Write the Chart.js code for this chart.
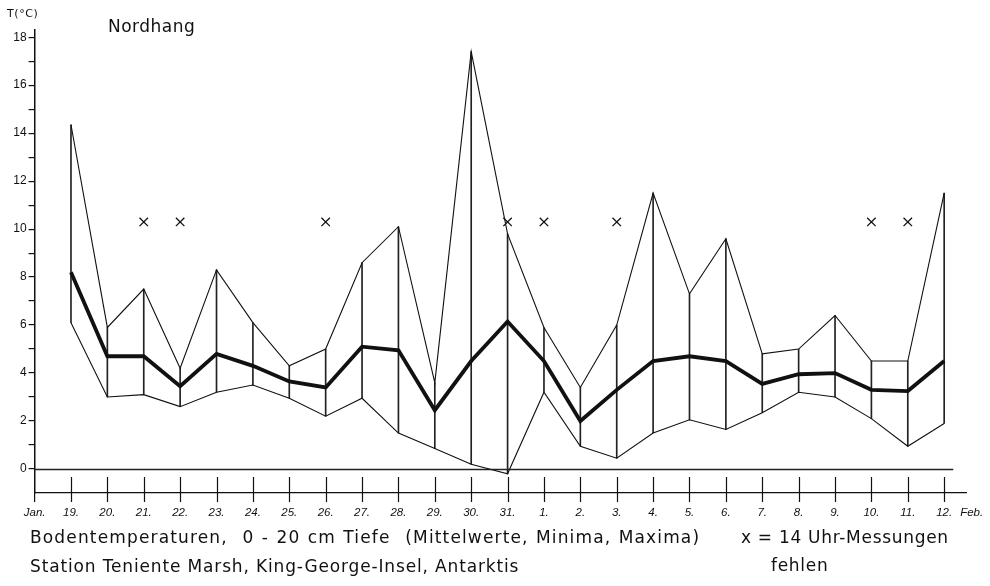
<!DOCTYPE html>
<html>
<head>
<meta charset="utf-8">
<script src="https://cdn.jsdelivr.net/npm/chart.js@4.4.1/dist/chart.umd.min.js"></script>
<style>
  html, body { margin: 0; padding: 0; background: #fff; }
  #wrap { position: relative; width: 990px; height: 586px; overflow: hidden; }
  #chart { position: absolute; left: 0; top: 0; }
  .txt { position: absolute; white-space: pre; color: #111; font-family: "DejaVu Sans", sans-serif; line-height: 1; }
  .cap { font-size: 17px; letter-spacing: 0.85px; }
</style>
</head>
<body>
<div id="wrap">
  <canvas id="chart" width="990" height="586"></canvas>
  <div class="txt" style="left:7px; top:8px; font-size:11px; letter-spacing:0.6px;">T(°C)</div>
  <div class="txt" style="left:108px; top:18px; font-size:17px; letter-spacing:0.5px;">Nordhang</div>
  <div class="txt cap" style="left:30px; top:529px; letter-spacing:1.15px; word-spacing:0.8px;">Bodentemperaturen,  0 - 20 cm Tiefe  (Mittelwerte, Minima, Maxima)</div>
  <div class="txt cap" style="left:30px; top:558px;">Station Teniente Marsh, King-George-Insel, Antarktis</div>
  <div class="txt cap" style="left:741px; top:529px; letter-spacing:0.7px;">x = 14 Uhr-Messungen</div>
  <div class="txt cap" style="left:771px; top:557px; letter-spacing:0.7px;">fehlen</div>
</div>
<script>
// Daily soil temperatures, 0-20 cm depth, 19 Jan - 12 Feb (°C)
const dayLabels = ['19.', '20.', '21.', '22.', '23.', '24.', '25.', '26.', '27.', '28.', '29.', '30.', '31.',
                   '1.', '2.', '3.', '4.', '5.', '6.', '7.', '8.', '9.', '10.', '11.', '12.'];
const monthStart = 'Jan.';
const monthEnd = 'Feb.';

const maxima = [14.35, 5.9, 7.5, 4.2, 8.3, 6.1, 4.3, 5.0, 8.6, 10.1, 3.6, 17.4, 9.8,
                5.9, 3.4, 6.0, 11.5, 7.3, 9.6, 4.8, 5.0, 6.4, 4.5, 4.5, 11.5];
const means  = [8.2, 4.7, 4.7, 3.45, 4.8, 4.3, 3.65, 3.4, 5.1, 4.95, 2.45, 4.5, 6.15,
                4.5, 2.0, 3.3, 4.5, 4.7, 4.5, 3.55, 3.95, 4.0, 3.3, 3.25, 4.5];
const minima = [6.1, 3.0, 3.1, 2.6, 3.2, 3.5, 2.95, 2.2, 2.95, 1.5, 0.85, 0.2, -0.2,
                3.2, 0.95, 0.45, 1.5, 2.05, 1.65, 2.35, 3.2, 3.0, 2.1, 0.95, 1.9];

// days on which the 14 o'clock reading is missing (index into dayLabels)
const missingDays = [2, 3, 7, 12, 13, 15, 22, 23];
const missingMarkLevel = 10.3;

const yTickValues = [0, 1, 2, 3, 4, 5, 6, 7, 8, 9, 10, 11, 12, 13, 14, 15, 16, 17, 18];

const ink = '#111';
const pts = arr => arr.map((v, i) => ({ x: i, y: v }));

// x tick strokes crossing the base line, the 0 °C line and the trailing month name
const axisMarks = {
  id: 'axisMarks',
  afterDatasetsDraw(chart) {
    const { ctx, scales: { x, y } } = chart;
    const base = y.getPixelForValue(-1);
    ctx.save();
    ctx.strokeStyle = ink;
    ctx.lineWidth = 1.2;
    ctx.beginPath();
    for (let i = 0; i < dayLabels.length; i++) {
      const px = Math.round(x.getPixelForValue(i)) + 0.5;
      ctx.moveTo(px, base - 16);
      ctx.lineTo(px, base + 9);
    }
    const ax = x.getPixelForValue(-1);
    ctx.moveTo(ax, base);
    ctx.lineTo(ax, base + 9);
    ctx.stroke();

    ctx.lineWidth = 1.4;
    ctx.strokeStyle = '#222';
    ctx.beginPath();
    const zy = Math.round(y.getPixelForValue(0)) + 0.5;
    ctx.moveTo(ax, zy);
    ctx.lineTo(x.getPixelForValue(24.25), zy);
    ctx.stroke();

    ctx.fillStyle = ink;
    ctx.font = 'italic 11.5px "Liberation Sans", sans-serif';
    ctx.textAlign = 'left';
    ctx.textBaseline = 'middle';
    ctx.fillText(monthEnd, x.getPixelForValue(dayLabels.length - 1) + 16, base + 19.6);
    ctx.restore();
  }
};

new Chart(document.getElementById('chart'), {
  type: 'bar',
  data: {
    datasets: [
      {
        type: 'scatter',
        data: missingDays.map(i => ({ x: i, y: missingMarkLevel })),
        pointStyle: 'crossRot',
        pointRadius: 6,
        borderColor: ink,
        borderWidth: 1.3,
        showLine: false,
        order: 0
      },
      {
        type: 'line',
        data: pts(means),
        borderColor: ink,
        borderWidth: 3.8,
        pointRadius: 0,
        tension: 0,
        order: 1
      },
      {
        type: 'line',
        data: pts(maxima),
        borderColor: ink,
        borderWidth: 1.1,
        pointRadius: 0,
        tension: 0,
        order: 2
      },
      {
        type: 'line',
        data: pts(minima),
        borderColor: ink,
        borderWidth: 1.1,
        pointRadius: 0,
        tension: 0,
        order: 2
      },
      {
        type: 'bar',
        data: minima.map((v, i) => ({ x: i, y: [v, maxima[i]] })),
        backgroundColor: '#222',
        borderWidth: 0,
        barThickness: 1,
        order: 3
      }
    ]
  },
  options: {
    responsive: false,
    animation: false,
    devicePixelRatio: 1,
    layout: { padding: { left: 0, right: 24, top: 30, bottom: 63 } },
    plugins: { legend: { display: false }, tooltip: { enabled: false } },
    scales: {
      x: {
        type: 'linear',
        min: -1,
        max: 24.6,
        offset: false,
        grid: { display: false, drawTicks: false },
        border: { display: true, color: ink, width: 1.3 },
        afterBuildTicks: s => { s.ticks = [-1].concat(dayLabels.map((_, i) => i)).map(v => ({ value: v })); },
        afterFit: s => { s.height = 30; },
        ticks: {
          autoSkip: false,
          maxRotation: 0,
          padding: 13,
          color: ink,
          font: { family: '"Liberation Sans", sans-serif', size: 11.5, style: 'italic' },
          callback: v => (v === -1 ? monthStart : (dayLabels[v] ?? ''))
        }
      },
      y: {
        type: 'linear',
        min: -1,
        max: 18.3,
        grid: { drawOnChartArea: false, drawTicks: true, tickLength: 6, color: ink, lineWidth: 1.2 },
        border: { display: true, color: ink, width: 1.5 },
        afterBuildTicks: s => { s.ticks = yTickValues.map(v => ({ value: v })); },
        afterFit: s => { s.width = 34.6; },
        ticks: {
          padding: 2,
          color: ink,
          font: { family: '"Liberation Sans", sans-serif', size: 12 },
          callback: v => (v % 2 === 0 ? String(v) : '')
        }
      }
    }
  },
  plugins: [axisMarks]
});
</script>
</body>
</html>
